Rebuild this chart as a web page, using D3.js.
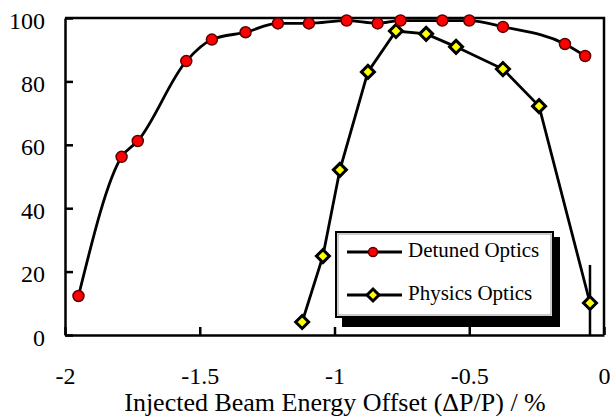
<!DOCTYPE html>
<html>
<head>
<meta charset="utf-8">
<script src="https://cdn.jsdelivr.net/npm/d3@7"></script>
<style>
  body { margin: 0; background: #fff; }
  text { font-family: "Liberation Serif", "Times New Roman", serif; fill: #000; }
</style>
</head>
<body>
<script>
// values
var detunedX = [-1.95, -1.79, -1.73, -1.55, -1.455, -1.33, -1.21, -1.095, -0.955, -0.84, -0.755, -0.60, -0.50, -0.375, -0.145, -0.07];
var detunedY = [12.3, 56.2, 61.2, 86.4, 93.2, 95.5, 98.3, 98.3, 99.2, 98.3, 99.2, 99.2, 99.2, 97.2, 91.8, 88.0];

var physicsX = [-1.12, -1.043, -0.98, -0.876, -0.772, -0.66, -0.549, -0.375, -0.241, -0.052];
var physicsY = [4.1, 24.9, 52.1, 83.0, 95.9, 95.0, 90.9, 83.9, 72.2, 10.1];
var physicsErr = [0, 0, 0, 0, 0, 0, 0, 0, 0, 12];

var seriesNames = ["Detuned Optics", "Physics Optics"];
var xTicks = [-2, -1.5, -1, -0.5, 0];
var yTicks = [0, 20, 40, 60, 80, 100];
var xTitle = "Injected Beam Energy Offset (\u0394P/P) / %";

var width = 610,
    height = 416,
    plotLeft = 65, plotRight = 604, plotTop = 18, plotBottom = 335;

var serif = '"Liberation Serif", "Times New Roman", serif';

var svg = d3.select("body")
            .append("svg")
            .attr("width", width)
            .attr("height", height);

var xScale = d3.scaleLinear().domain([-2, 0]).range([plotLeft, plotRight]);
var yScale = d3.scaleLinear().domain([0, 100]).range([plotBottom, plotTop]);

var detuned = detunedX.map(function (x, i) { return { x: x, y: detunedY[i] }; });
var physics = physicsX.map(function (x, i) { return { x: x, y: physicsY[i], e: physicsErr[i] }; });

// axes, ticks pointing inward
var xAxis = d3.axisBottom(xScale)
              .tickValues(xTicks)
              .tickFormat(function (d) { return String(d); })
              .tickSizeInner(-8).tickSizeOuter(0).tickPadding(32);
var yAxis = d3.axisLeft(yScale)
              .tickValues(yTicks)
              .tickFormat(function (d) { return String(d); })
              .tickSizeInner(-8).tickSizeOuter(0).tickPadding(20);

var gx = svg.append("g").attr("transform", "translate(0," + plotBottom + ")").call(xAxis);
var gy = svg.append("g").attr("transform", "translate(" + plotLeft + ",0)").call(yAxis);

[gx, gy].forEach(function (g) {
    g.attr("font-family", serif).attr("font-size", 24);
    g.select(".domain").attr("stroke", "#000").attr("stroke-width", 2.5);
    g.selectAll(".tick line").attr("stroke", "#000").attr("stroke-width", 2.5);
    g.selectAll(".tick text")
        .style("font-family", serif)
        .style("font-size", "24px")
        .attr("fill", "#000");
});
gy.selectAll(".tick text").attr("dy", "0.42em");

// frame: top and right
svg.append("path")
   .attr("d", "M" + plotLeft + "," + plotTop + "H" + plotRight + "V" + plotBottom)
   .attr("fill", "none").attr("stroke", "#000").attr("stroke-width", 2.5);

svg.append("text")
   .attr("x", 335)
   .attr("y", 411)
   .attr("text-anchor", "middle")
   .style("font-size", "26px")
   .text(xTitle);

// error bar
svg.append("g").selectAll("line")
   .data(physics.filter(function (d) { return d.e > 0; }))
   .enter().append("line")
   .attr("x1", function (d) { return xScale(d.x); })
   .attr("x2", function (d) { return xScale(d.x); })
   .attr("y1", function (d) { return yScale(Math.min(100, d.y + d.e)); })
   .attr("y2", function (d) { return yScale(Math.max(0, d.y - d.e)); })
   .attr("stroke", "#000").attr("stroke-width", 2.5);

var detunedLine = d3.line()
    .x(function (d) { return xScale(d.x); })
    .y(function (d) { return yScale(d.y); })
    .curve(d3.curveMonotoneX);
var physicsLine = d3.line()
    .x(function (d) { return xScale(d.x); })
    .y(function (d) { return yScale(d.y); });

svg.append("path").datum(detuned)
   .attr("d", detunedLine)
   .attr("fill", "none").attr("stroke", "#000").attr("stroke-width", 2.8);
svg.append("path").datum(physics)
   .attr("d", physicsLine)
   .attr("fill", "none").attr("stroke", "#000").attr("stroke-width", 2.8);

function diamond(r) {
    return "M0," + (-r) + "L" + r + ",0L0," + r + "L" + (-r) + ",0Z";
}

svg.append("g").selectAll("path")
   .data(physics)
   .enter().append("path")
   .attr("transform", function (d) { return "translate(" + xScale(d.x) + "," + yScale(d.y) + ")"; })
   .attr("d", diamond(6.5))
   .attr("fill", "#ffff00").attr("stroke", "#000").attr("stroke-width", 3);

svg.append("g").selectAll("circle")
   .data(detuned)
   .enter().append("circle")
   .attr("cx", function (d) { return xScale(d.x); })
   .attr("cy", function (d) { return yScale(d.y); })
   .attr("r", 5.5)
   .attr("fill", "#ff0000").attr("stroke", "#5a0000").attr("stroke-width", 1.5);

// legend with drop shadow
var lg = svg.append("g").attr("transform", "translate(336,232)");
lg.append("rect").attr("x", 6).attr("y", 5).attr("width", 218).attr("height", 90).attr("fill", "#000");
lg.append("rect").attr("x", 0).attr("y", 0).attr("width", 217).attr("height", 85)
  .attr("fill", "#fff").attr("stroke", "#000").attr("stroke-width", 2);
lg.append("rect").attr("x", 2).attr("y", 2).attr("width", 213).attr("height", 81)
  .attr("fill", "none").attr("stroke", "#999").attr("stroke-width", 1);

var items = lg.selectAll("g.item")
    .data(seriesNames)
    .enter().append("g")
    .attr("class", "item")
    .attr("transform", function (d, i) { return "translate(0," + (20 + i * 43) + ")"; });

items.append("line")
     .attr("x1", 11).attr("x2", 66).attr("y1", 0).attr("y2", 0)
     .attr("stroke", "#000").attr("stroke-width", 2.8);

items.each(function (d, i) {
    var g = d3.select(this);
    if (i === 0) {
        g.append("circle").attr("cx", 37).attr("cy", 0).attr("r", 4.5)
         .attr("fill", "#ff0000").attr("stroke", "#5a0000").attr("stroke-width", 1.5);
    } else {
        g.append("path").attr("transform", "translate(37,0)").attr("d", diamond(6))
         .attr("fill", "#ffff00").attr("stroke", "#000").attr("stroke-width", 3);
    }
});

items.append("text")
     .attr("x", 72).attr("y", 5)
     .style("font-size", "21px")
     .text(function (d) { return d; });
</script>
</body>
</html>
